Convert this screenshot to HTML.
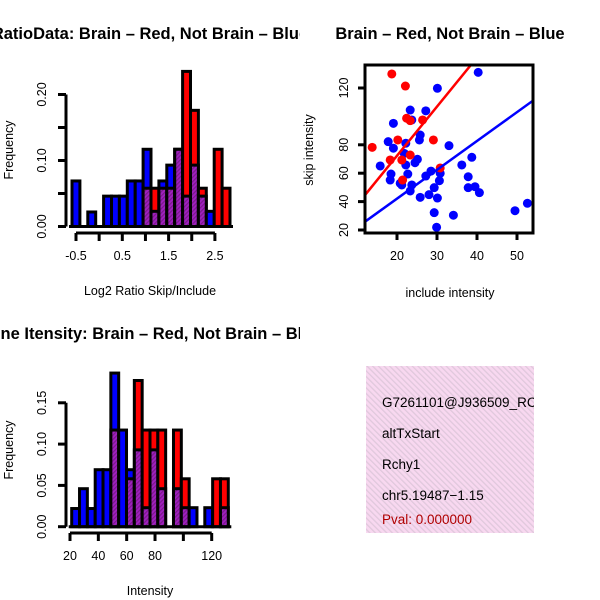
<!DOCTYPE html>
<html><head><meta charset="utf-8"><style>body{margin:0;background:#fff}svg{display:block}</style></head>
<body>
<svg id="c" width="600" height="600" xmlns="http://www.w3.org/2000/svg" font-family="Liberation Sans, sans-serif">
<defs>
<pattern id="hatch" width="3" height="3" patternUnits="userSpaceOnUse" patternTransform="rotate(45)"><rect width="3" height="3" fill="#a020c0"/><rect width="1.2" height="3" fill="#7a1a8a"/></pattern>
<pattern id="pink" width="4" height="4" patternUnits="userSpaceOnUse" patternTransform="rotate(-45)"><rect width="4" height="4" fill="#f8d8f0"/><rect width="1.3" height="4" fill="#e0c8dc"/></pattern>
<clipPath id="leftPanel"><rect x="0" y="0" width="300" height="600"/></clipPath>
<clipPath id="rightPanel"><rect x="300" y="0" width="300" height="600"/></clipPath>
</defs>
</svg>
<script>
// Ratio histogram data
const ratioBlue=[0.069,0,0.022,0,0.046,0.046,0.046,0.069,0.069,0.117,0.023,0.069,0.093,0.117,0.046,0.093,0.046,0.023,0,0];
const ratioRed=[0,0,0,0,0,0,0,0,0,0.058,0.058,0.058,0.058,0.117,0.235,0.176,0.058,0,0.117,0.058];
const ratioXTicks=[-0.5,0,0.5,1,1.5,2,2.5];
const ratioXLabels=["-0.5","","0.5","","1.5","","2.5"];
const ratioYTicks=[0,0.05,0.10,0.15,0.20];
const ratioYLabels=["0.00","","0.10","","0.20"];
// Intensity histogram data
const intBlue=[0.022,0.046,0.022,0.069,0.069,0.186,0.117,0.069,0.093,0.023,0.093,0.046,0,0.046,0.023,0.023,0,0.023,0,0.023];
const intRed=[0,0,0,0,0,0.117,0,0.058,0.177,0.117,0.117,0.117,0,0.117,0.058,0,0,0,0.058,0.058];
const intXTicks=[20,40,60,80,100,120];
const intXLabels=["20","40","60","80","","120"];
const intYTicks=[0,0.05,0.10,0.15];
const intYLabels=["0.00","0.05","0.10","0.15"];
// Scatter data
const redX=[13.8,18.7,22.1,22.4,23.3,26.4,20.2,29.1,18.3,21.2,23.3,21.4,30.8];
const redY=[78.2,129.9,121.4,98.7,97,97.5,83.4,83.4,69.3,69.3,72.8,55.2,63.7];
const blueX=[40.3,30.1,23.3,27.2,19.1,23.7,25.8,25.6,17.8,22.2,19.1,33,21.8,15.8,25.1,24.5,22.2,36.2,28.5,22.7,18.5,30.8,27.2,38.7,18.3,20.8,23.7,30.6,37.8,37.8,39.5,40.6,29.3,23.3,25.8,28,30.1,29.3,34.1,29.9,49.5,52.6,21.2];
const blueY=[131,119.8,104.5,103.9,95.1,97.5,86.9,83.4,82.2,81.1,77.6,79.4,74,65.1,69.8,67.4,65.8,65.8,61.5,59.4,59.4,59.9,58,71.2,55.2,52.9,51.7,54.7,57.5,49.8,50.5,46.3,49.8,47.5,43,44.9,42.5,32.2,30.4,21.9,33.6,38.8,51.7];
const redLine=[3.1,3.46];
const blueLine=[1.5,2.03];
const scXTicks=[20,30,40,50];
const scYTicks=[20,40,60,80,120];

const svg=document.getElementById('c');
const NS='http://www.w3.org/2000/svg';
function el(tag,attrs,parent,text){const e=document.createElementNS(NS,tag);for(const k in attrs)e.setAttribute(k,attrs[k]);if(text!==undefined)e.textContent=text;(parent||svg).appendChild(e);return e;}

function title(x,y,t,name,clip){const e=el('text',{x:x,y:y,'text-anchor':'middle','font-size':16.5,'font-weight':'bold','clip-path':'url(#'+clip+')'},svg,t);

}

function hist(o){
  const g=el('g',{});
  
  
  const n=o.blue.length,bw=(o.x1-o.x0)/n;
  const ys=v=>o.base-v*o.ppu;
  for(let i=0;i<n;i++){
    const b=o.blue[i],r=o.red[i];const x=o.x0+i*bw;
    const mx=Math.max(b,r),mn=Math.min(b,r);
    if(mx<=0)continue;
    const big=el('rect',{x:x,y:ys(mx),width:bw,height:mx*o.ppu,fill:b>=r?'#0000ff':'#ff0000',stroke:'#000','stroke-width':3},g);
    
    
    if(mn>0){const p=el('rect',{x:x,y:ys(mn),width:bw,height:mn*o.ppu,fill:'url(#hatch)',stroke:'#000','stroke-width':3},g);
      
      }
  }
  el('line',{x1:o.x0-3,x2:o.x1+3,y1:o.base,y2:o.base,stroke:'#000','stroke-width':3},g);
  const ya=el('g',{},g);
  
  
  const yt=o.yTicks;
  el('line',{x1:o.yAxisX,x2:o.yAxisX,y1:ys(yt[0]),y2:ys(yt[yt.length-1]),stroke:'#000','stroke-width':3},ya);
  yt.forEach((v,i)=>{el('line',{x1:o.yAxisX-8,x2:o.yAxisX,y1:ys(v),y2:ys(v),stroke:'#000','stroke-width':3},ya);
    if(o.yLabels[i]){el('text',{x:0,y:0,'font-size':12.5,'text-anchor':'middle',transform:`translate(${o.yAxisX-20},${ys(v)}) rotate(-90)`},ya,o.yLabels[i]);}});
  const xa=el('g',{},g);
  
  
  const xs=v=>o.xp0+(v-o.xv0)*o.xppu;const xt=o.xTicks;
  el('line',{x1:xs(xt[0]),x2:xs(xt[xt.length-1]),y1:o.xAxisY,y2:o.xAxisY,stroke:'#000','stroke-width':3},xa);
  xt.forEach((v,i)=>{el('line',{x1:xs(v),x2:xs(v),y1:o.xAxisY,y2:o.xAxisY+8,stroke:'#000','stroke-width':3},xa);
    if(o.xLabels[i])el('text',{x:xs(v),y:o.xAxisY+27,'font-size':12.5,'text-anchor':'middle'},xa,o.xLabels[i]);});
  const xl=el('text',{x:150,y:o.xAxisY+62,'font-size':12.5,'text-anchor':'middle'},g,o.xTitle);
  
  
  const yl=el('text',{x:0,y:0,'font-size':12.5,'text-anchor':'middle',transform:`translate(13,${o.yTitleY}) rotate(-90)`},g,'Frequency');
  
  
}

title(150,39,'RatioData: Brain \u2013 Red, Not Brain \u2013 Blue','ratio-title','leftPanel');
hist({name:'ratio-histogram',blue:ratioBlue,red:ratioRed,x0:72,x1:230,base:226.5,ppu:660,yAxisX:66,yTicks:ratioYTicks,yLabels:ratioYLabels,
  xTicks:ratioXTicks,xLabels:ratioXLabels,xp0:76,xv0:-0.5,xppu:46.3,xAxisY:233,xTitle:'Log2 Ratio Skip/Include',yTitleY:150});

title(150,339,'Gene Itensity: Brain \u2013 Red, Not Brain \u2013 Blue','intensity-title','leftPanel');
hist({name:'intensity-histogram',blue:intBlue,red:intRed,x0:71.7,x1:228.3,base:526.7,ppu:826,yAxisX:66,yTicks:intYTicks,yLabels:intYLabels,
  xTicks:intXTicks,xLabels:intXLabels,xp0:70,xv0:20,xppu:1.417,xAxisY:533,xTitle:'Intensity',yTitleY:450});

title(450,39,'Brain \u2013 Red, Not Brain \u2013 Blue','scatter-title','rightPanel');
(function(){
  const g=el('g',{});
  
  
  const L=365,R=533,T=65,B=233;
  const xs=v=>397+(v-20)*4, ys=v=>230-(v-20)*1.42;
  const cp=el('clipPath',{id:'scClip'},g);el('rect',{x:L,y:T,width:R-L,height:B-T},cp);
  const pg=el('g',{'clip-path':'url(#scClip)'},g);
  blueX.forEach((x,i)=>{const c=el('circle',{cx:xs(x),cy:ys(blueY[i]),r:4.5,fill:'#0000ff'},pg);
    
    });
  redX.forEach((x,i)=>{const c=el('circle',{cx:xs(x),cy:ys(redY[i]),r:4.5,fill:'#ff0000'},pg);
    
    });
  const lx0=12,lx1=55;
  const bl=el('line',{x1:xs(lx0),y1:ys(blueLine[0]+blueLine[1]*lx0),x2:xs(lx1),y2:ys(blueLine[0]+blueLine[1]*lx1),stroke:'#0000ff','stroke-width':2.5},pg);
  
  
  const rl=el('line',{x1:xs(lx0),y1:ys(redLine[0]+redLine[1]*lx0),x2:xs(lx1),y2:ys(redLine[0]+redLine[1]*lx1),stroke:'#ff0000','stroke-width':2.5},pg);
  
  
  el('rect',{x:L,y:T,width:R-L,height:B-T,fill:'none',stroke:'#000','stroke-width':3},g);
  scXTicks.forEach(v=>{el('line',{x1:xs(v),x2:xs(v),y1:B,y2:B+7,stroke:'#000','stroke-width':3},g);
    el('text',{x:xs(v),y:B+27,'font-size':12.5,'text-anchor':'middle'},g,String(v));});
  scYTicks.forEach(v=>{el('line',{x1:L-7,x2:L,y1:ys(v),y2:ys(v),stroke:'#000','stroke-width':3},g);
    el('text',{x:0,y:0,'font-size':12.5,'text-anchor':'middle',transform:`translate(${L-17},${ys(v)}) rotate(-90)`},g,String(v));});
  const xt=el('text',{x:450,y:297,'font-size':12.5,'text-anchor':'middle'},g,'include intensity');
  
  
  const yt=el('text',{x:0,y:0,'font-size':12.5,'text-anchor':'middle',transform:'translate(313,150) rotate(-90)'},g,'skip intensity');
  
  
})();

(function(){
  const g=el('g',{});
  
  
  const cp=el('clipPath',{id:'boxClip'},g);el('rect',{x:366,y:366,width:168,height:167},cp);
  el('rect',{x:366,y:366,width:168,height:167,fill:'url(#pink)'},g);
  const tg=el('g',{'clip-path':'url(#boxClip)','font-size':13.5},g);
  [['G7261101@J936509_RC','#000',407,'gene-id'],['altTxStart','#000',438,'event-type'],['Rchy1','#000',469,'gene-symbol'],['chr5.19487\u22121.15','#000',500,'location'],['Pval: 0.000000','#b00000',524,'p-value']].forEach(a=>{
    const t=el('text',{x:382,y:a[2],fill:a[1]},tg,a[0]);
    
    
  });
})();
</script>
</body></html>
